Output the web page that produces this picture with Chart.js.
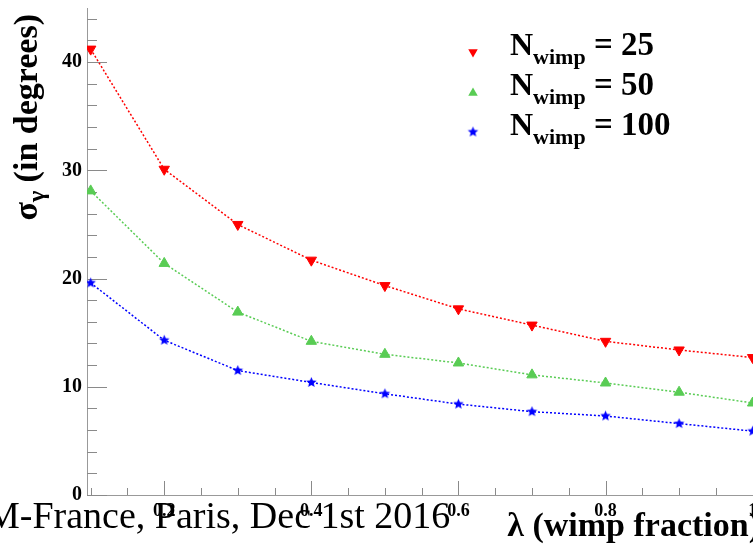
<!DOCTYPE html>
<html><head><meta charset="utf-8">
<script src="https://cdn.jsdelivr.net/npm/chart.js@4/dist/chart.umd.min.js"></script>
<style>
html,body{margin:0;padding:0;overflow:hidden;background:#fff;width:753px;height:553px}
#wrap{position:absolute;left:0;top:0;width:790px;height:553px}
</style></head>
<body><div id="wrap"><canvas id="c" width="790" height="553"></canvas></div>
<script>
// ---- data ----
const lambdaValues = [0.1, 0.2, 0.3, 0.4, 0.5, 0.6, 0.7, 0.8, 0.9, 1.0];
const sigmaN25  = [41.2, 30.1, 25.0, 21.7, 19.35, 17.2, 15.7, 14.2, 13.4, 12.7];
const sigmaN50  = [28.1, 21.4, 16.9, 14.2, 13.0, 12.2, 11.1, 10.35, 9.5, 8.5];
const sigmaN100 = [19.6, 14.3, 11.5, 10.4, 9.35, 8.4, 7.7, 7.3, 6.6, 5.9];
const nWimpLabels = ['25', '50', '100'];
const xTickValues = [0.2, 0.4, 0.6, 0.8, 1.0];
const yTickValues = [0, 10, 20, 30, 40];
const xTitle = 'λ (wimp fraction)';
const yTitleMain = 'σ', yTitleSub = 'γ', yTitleRest = ' (in degrees)';
const footerText = 'M-France, Paris, Dec 1st 2016';

const SERIF = "'Liberation Serif','Times New Roman',serif";
const RED = '#ff0000', GREEN = 'rgb(89,204,84)', BLUE = '#0000ff';

function starCanvas(color, R) {
  const s = Math.ceil(R * 2) + 2;
  const cv = document.createElement('canvas');
  cv.width = s; cv.height = s;
  const g = cv.getContext('2d');
  g.fillStyle = color;
  g.beginPath();
  for (let i = 0; i < 10; i++) {
    const r = i % 2 === 0 ? R : R * 0.45;
    const a = -Math.PI / 2 + i * Math.PI / 5;
    const px = s / 2 + r * Math.cos(a), py = s / 2 + r * Math.sin(a);
    if (i === 0) g.moveTo(px, py); else g.lineTo(px, py);
  }
  g.closePath(); g.fill();
  return cv;
}
const starImg = starCanvas(BLUE, 5.5);

function pts(ys) { return lambdaValues.map((x, i) => ({x, y: ys[i]})); }

function mkSet(label, ys, color, style, rot) {
  return {
    label, data: pts(ys),
    borderColor: color, backgroundColor: color,
    borderWidth: 1.5, borderDash: [2, 2],
    pointStyle: style, pointRotation: rot,
    pointRadius: 6, pointHoverRadius: 6,
    pointBackgroundColor: color, pointBorderColor: color, pointBorderWidth: 1,
    tension: 0, fill: false
  };
}

const innerTicks = {
  id: 'innerTicks',
  beforeDatasetsDraw(chart) {
    const {ctx, chartArea, scales} = chart;
    const xs = scales.x, ys = scales.y;
    ctx.save();
    ctx.strokeStyle = '#8a8a8a';
    ctx.lineWidth = 1;
    ctx.beginPath();
    for (let v = 0; v <= 44.001; v += 2) {
      const y = Math.round(ys.getPixelForValue(v)) + 0.5;
      const len = (Math.round(v) % 10 === 0) ? 20 : 10;
      ctx.moveTo(chartArea.left, y); ctx.lineTo(chartArea.left + len, y);
    }
    for (let k = 2; k <= 20; k++) {
      const v = k * 0.05;
      const x = Math.round(xs.getPixelForValue(v)) + 0.5;
      const len = (k % 4 === 0) ? 14 : 7;
      ctx.moveTo(x, chartArea.bottom); ctx.lineTo(x, chartArea.bottom - len);
    }
    ctx.stroke();
    ctx.restore();
  }
};

function drawTri(ctx, x, y, r, down, color) {
  let rad = down ? Math.PI : 0;
  ctx.fillStyle = color;
  ctx.beginPath();
  for (let i = 0; i < 3; i++) {
    const px = x + Math.sin(rad) * r, py = y - Math.cos(rad) * r;
    if (i === 0) ctx.moveTo(px, py); else ctx.lineTo(px, py);
    rad += 2 * Math.PI / 3;
  }
  ctx.closePath(); ctx.fill();
}

const overlay = {
  id: 'overlay',
  afterDraw(chart) {
    const ctx = chart.ctx;
    ctx.save();
    // Legend
    const rows = [52, 92, 132];
    drawTri(ctx, 473, rows[0], 5.5, true, RED);
    drawTri(ctx, 473, rows[1] + 1, 5.5, false, GREEN);
    ctx.drawImage(starImg, 473 - starImg.width / 2, rows[2] - starImg.height / 2);
    ctx.fillStyle = '#000';
    ctx.textBaseline = 'alphabetic';
    ctx.textAlign = 'left';
    nWimpLabels.forEach((lab, i) => {
      const base = 55 + i * 40;
      let x = 510;
      ctx.font = 'bold 32px ' + SERIF;
      ctx.fillText('N', x, base);
      x += ctx.measureText('N').width;
      ctx.font = 'bold 22px ' + SERIF;
      ctx.fillText('wimp', x, base + 9);
      x += ctx.measureText('wimp').width;
      ctx.font = 'bold 33px ' + SERIF;
      ctx.fillText(' = ' + lab, x, base);
    });
    // Y title (rotated, with subscript)
    ctx.font = 'bold 34px ' + SERIF;
    const wMain = ctx.measureText(yTitleMain).width;
    const wRest = ctx.measureText(yTitleRest).width;
    ctx.font = 'bold 24px ' + SERIF;
    const wSub = ctx.measureText(yTitleSub).width;
    const total = wMain + wSub + wRest;
    ctx.translate(37, 14 + total);
    ctx.rotate(-Math.PI / 2);
    ctx.font = 'bold 34px ' + SERIF;
    ctx.fillText(yTitleMain, 0, 0);
    ctx.font = 'bold 24px ' + SERIF;
    ctx.fillText(yTitleSub, wMain, 7);
    ctx.font = 'bold 34px ' + SERIF;
    ctx.fillText(yTitleRest, wMain + wSub, 0);
    ctx.setTransform(1, 0, 0, 1, 0, 0);
    // footer overlay text from the slide
    ctx.font = '38px ' + SERIF;
    ctx.fillStyle = '#000';
    ctx.fillText(footerText, -14, 528);
    ctx.restore();
  }
};

new Chart(document.getElementById('c'), {
  type: 'line',
  data: {
    datasets: [
      mkSet('N_wimp = 25', sigmaN25, RED, 'triangle', 180),
      mkSet('N_wimp = 50', sigmaN50, GREEN, 'triangle', 0),
      mkSet('N_wimp = 100', sigmaN100, BLUE, starImg, 0)
    ]
  },
  options: {
    responsive: false,
    animation: false,
    devicePixelRatio: 1,
    layout: {padding: {left: 0, top: 8, right: 30, bottom: 0}},
    plugins: {legend: {display: false}, tooltip: {enabled: false}},
    scales: {
      x: {
        type: 'linear', min: 0.095, max: 1.01,
        afterFit(s) { s.height = 58; s.paddingLeft = 0; s.paddingRight = 0; },
        afterBuildTicks(s) { s.ticks = xTickValues.map(v => ({value: v})); },
        grid: {display: true, drawOnChartArea: false, drawTicks: false},
        border: {display: true, color: '#999', width: 1},
        ticks: {
          font: {family: SERIF, weight: 'bold', size: 18}, color: '#000', padding: 6,
          maxRotation: 0, autoSkip: false,
          callback: v => (Math.abs(v - 1) < 1e-9 ? '1' : v.toFixed(1))
        },
        title: {display: true, text: xTitle, align: 'end', color: '#000',
          font: {family: SERIF, weight: 'bold', size: 34}, padding: {top: 0, bottom: 5}}
      },
      y: {
        type: 'linear', min: 0, max: 45,
        afterFit(s) { s.width = 87; s.paddingTop = 0; s.paddingBottom = 0; },
        afterBuildTicks(s) { s.ticks = yTickValues.map(v => ({value: v})); },
        grid: {display: true, drawOnChartArea: false, drawTicks: false},
        border: {display: true, color: '#999', width: 1},
        ticks: {font: {family: SERIF, weight: 'bold', size: 20}, color: '#000', padding: 5,
          callback: v => String(v)}
      }
    }
  },
  plugins: [innerTicks, overlay]
});
</script>
</body></html>
